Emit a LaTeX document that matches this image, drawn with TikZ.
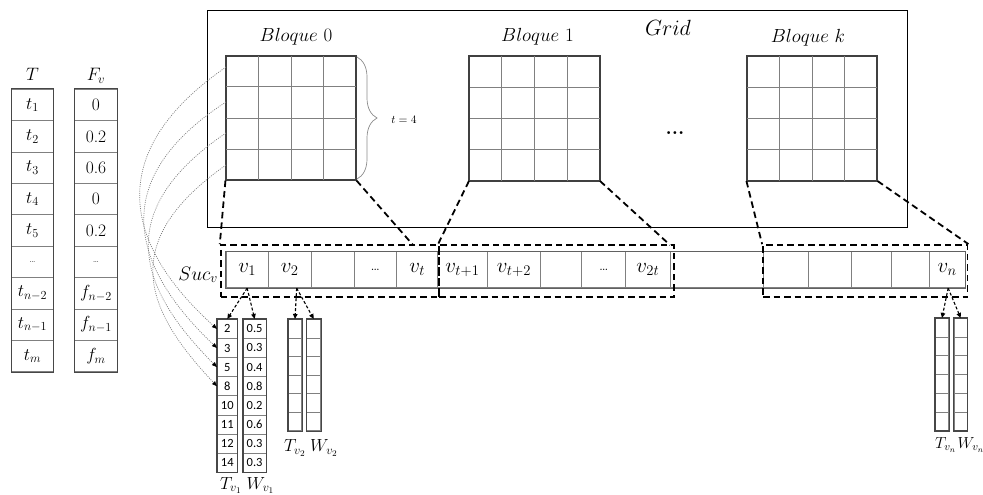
\RequirePackage{fix-cm}
\documentclass[tikz,border=0pt]{standalone}
\usepackage{fontspec}
\newfontfamily\carl{Carlito}
\usetikzlibrary{arrows.meta,decorations.pathreplacing,calc}
\begin{document}
\begin{tikzpicture}[x=1pt,y=-1pt,
  outer/.style={draw=black!72, line width=1.1pt},
  inner/.style={draw=black!50, line width=0.8pt},
  blockbox/.style={draw=black!75, line width=1.1pt, minimum width=130pt, minimum height=124pt, inner sep=0pt},
  dsh/.style={line width=1.8pt, dash pattern=on 6.5pt off 4pt},
  dbox/.style={draw, dsh, inner sep=0pt, minimum height=52pt},
  darr/.style={line width=1.1pt, dash pattern=on 3pt off 2pt, -{Triangle[length=5pt,width=4.5pt]}},
  dotc/.style={draw=black!50, line width=0.7pt, dash pattern=on 1pt off 1.2pt, -{Triangle[length=5pt,width=4pt,color=black]}},
  scell/.style={draw=black!50, line width=0.8pt, inner sep=0pt, minimum height=36pt, font=\fontsize{21}{21}\selectfont},
  tcell/.style={draw=black!50, line width=0.8pt, inner sep=0pt, minimum height=31.38pt, font=\fontsize{17.5}{17.5}\selectfont},
  ncell/.style={draw=black!50, line width=0.7pt, inner sep=0pt, font=\carl\fontsize{12.5}{12.5}\selectfont},
  lbl/.style={inner sep=0pt},
]
\useasboundingbox (0,0) rectangle (983,495);

% Grid frame
\node[draw=black, line width=1pt, minimum width=700pt, minimum height=216pt, inner sep=0pt] (grid) at (557,119) {};
\node[lbl, anchor=base] (gridlbl) at (668,36) {\fontsize{22}{22}\selectfont$Grid$};

% blocks
\node[blockbox] (b0) at (291,118) {};
\node[blockbox] (b1) at (534.5,118.5) {};
\node[blockbox] (bk) at (812,118.5) {};
\foreach \b in {b0,b1,bk}{
  \foreach \i in {1,2,3}{
    \draw[inner] ($(\b.north west)!\i/4!(\b.north east)$) -- ($(\b.south west)!\i/4!(\b.south east)$);
    \draw[inner] ($(\b.north west)!\i/4!(\b.south west)$) -- ($(\b.north east)!\i/4!(\b.south east)$);
  }
  \draw[draw=black!75, line width=1.1pt] (\b.north west) rectangle (\b.south east);
}
\node[lbl, anchor=base] (l0) at (296,41.5) {\fontsize{19}{19}\selectfont$Bloque\ 0$};
\node[lbl, anchor=base] (l1) at (537.5,42) {\fontsize{19}{19}\selectfont$Bloque\ 1$};
\node[lbl, anchor=base] (lk) at (808,43) {\fontsize{19}{19}\selectfont$Bloque\ k$};
\node[lbl, anchor=base] (gdots) at (675,134) {\fontsize{20}{20}\selectfont\textbf{...}};

% brace
\draw[draw=black!45, line width=0.7pt, decorate, decoration={brace, amplitude=20pt}] (357,57) -- (357,179);
\node[lbl, anchor=base] (tl) at (404,124) {\fontsize{11.5}{11.5}\selectfont$t=4$};

% T and F tables
\node[lbl, anchor=base] (Th) at (32.5,80.7) {\fontsize{18}{18}\selectfont$T$};
\node[lbl, anchor=base] (Fh) at (96,80.7) {\fontsize{18}{18}\selectfont$F_v$};
\foreach \txt [count=\i] in {$t_1$,$t_2$,$t_3$,$t_4$,$t_5$,{\fontsize{9}{9}\selectfont\ldots},$t_{n-2}$,$t_{n-1}$,$t_m$}{
  \node[tcell, minimum width=41.6pt] (T\i) at (32.5,{89.3+31.38*(\i-0.5)}) {\txt};
}
\foreach \txt [count=\i] in {0,0.2,0.6,0,0.2,{\fontsize{9}{9}\selectfont\ldots},$f_{n-2}$,$f_{n-1}$,$f_m$}{
  \node[tcell, minimum width=42.3pt] (F\i) at (96,{89.3+31.38*(\i-0.5)}) {\txt};
}
\draw[outer] (T1.north west) rectangle (T9.south east);
\draw[outer] (F1.north west) rectangle (F9.south east);

% Suc array
\node[scell, minimum width=42.3pt] (c1) at (247.15,269.7) {$v_1$};
\node[scell, minimum width=42.7pt] (c2) at (289.65,269.7) {$v_2$};
\node[scell, minimum width=43pt] (c3) at (332.5,269.7) {};
\node[scell, minimum width=42.7pt] (c4) at (375.35,269.7) {\fontsize{16}{16}\selectfont\ldots};
\node[scell, minimum width=41pt] (c5) at (417.2,269.7) {$v_t$};
\node[scell, minimum width=49.6pt] (c6) at (462.5,269.7) {$v_{t+1}$};
\node[scell, minimum width=53.4pt] (c7) at (514,269.7) {$v_{t+2}$};
\node[scell, minimum width=41pt] (c8) at (561.2,269.7) {};
\node[scell, minimum width=44pt] (c9) at (603.7,269.7) {\fontsize{16}{16}\selectfont\ldots};
\node[scell, minimum width=44.3pt] (c10) at (647.85,269.7) {$v_{2t}$};
\node[scell, minimum width=93.3pt] (c11) at (716.65,269.7) {};
\node[scell, minimum width=45pt] (c12) at (785.8,269.7) {};
\node[scell, minimum width=42.7pt] (c13) at (829.65,269.7) {};
\node[scell, minimum width=40.7pt] (c14) at (871.35,269.7) {};
\node[scell, minimum width=37.6pt] (c15) at (910.5,269.7) {};
\node[scell, minimum width=35.7pt] (c16) at (947.15,269.7) {$v_n$};
\draw[draw=black!62, line width=1pt] (c1.north west) rectangle (c16.south east);
\node[lbl, anchor=base east] (suclbl) at (218,280) {\fontsize{19.5}{19.5}\selectfont$Suc_v$};

% dashed boxes
\node[dbox, minimum width=218.3pt] (box0) at (329.85,271) {};
\node[dbox, minimum width=235pt] (box1) at (556.5,271) {};
\node[dbox, minimum width=204.5pt] (boxk) at (865.25,271) {};
\coordinate (box0tip) at (413,245);
\coordinate (box1tip) at (670,245);
\draw[dsh] (b0.south west) -- (box0.north west);
\draw[dsh] (b0.south east) -- (box0tip);
\draw[dsh] (b1.south west) -- (box1.north west);
\draw[dsh] (b1.south east) -- (box1tip);
\draw[dsh] (bk.south west) -- (boxk.north west);
\draw[dsh] (bk.south east) -- (boxk.north east);

% small columns v1
\foreach \txt [count=\i] in {2,3,5,8,10,11,12,14}{
  \node[ncell, minimum width=20pt, minimum height=19.125pt] (tv1-\i) at (227.3,{319.3+19.125*(\i-0.5)}) {\txt};
}
\foreach \txt [count=\i] in {0.5,0.3,0.4,0.8,0.2,0.6,0.3,0.3}{
  \node[ncell, minimum width=22.7pt, minimum height=19.125pt] (wv1-\i) at (254.65,{319.3+19.125*(\i-0.5)}) {\txt};
}
\draw[outer] (tv1-1.north west) rectangle (tv1-8.south east);
\draw[outer] (wv1-1.north west) rectangle (wv1-8.south east);
% v2 and vn
\foreach \i in {1,...,6}{
  \node[ncell, minimum width=13.4pt, minimum height=18.57pt] (tv2-\i) at (295,{319.3+18.57*(\i-0.5)}) {};
  \node[ncell, minimum width=14pt, minimum height=18.57pt] (wv2-\i) at (313.7,{319.3+18.57*(\i-0.5)}) {};
  \node[ncell, minimum width=13.4pt, minimum height=18.73pt] (tvn-\i) at (942,{318.3+18.73*(\i-0.5)}) {};
  \node[ncell, minimum width=13.3pt, minimum height=18.73pt] (wvn-\i) at (960.65,{318.3+18.73*(\i-0.5)}) {};
}
\draw[outer] (tv2-1.north west) rectangle (tv2-6.south east);
\draw[outer] (wv2-1.north west) rectangle (wv2-6.south east);
\draw[outer] (tvn-1.north west) rectangle (tvn-6.south east);
\draw[outer] (wvn-1.north west) rectangle (wvn-6.south east);

% labels of small columns
\node[lbl, anchor=base west] (tv1l) at (220,489) {\fontsize{17.5}{17.5}\selectfont$T_{v_1}$};
\node[lbl, anchor=base west] (wv1l) at (246.5,489) {\fontsize{17.5}{17.5}\selectfont$W_{v_1}$};
\node[lbl, anchor=base west] (tv2l) at (284,451.7) {\fontsize{17.5}{17.5}\selectfont$T_{v_2}$};
\node[lbl, anchor=base west] (wv2l) at (310,451.7) {\fontsize{17.5}{17.5}\selectfont$W_{v_2}$};
\node[lbl, anchor=base west] (tvnl) at (935,448.3) {\fontsize{16}{16}\selectfont$T_{v_n}$};
\node[lbl, anchor=base west] (wvnl) at (957.5,448.3) {\fontsize{16}{16}\selectfont$W_{v_n}$};

% dashed arrows
\draw[darr] (c1.south) -- (tv1-1.north);
\draw[darr] (c1.south) -- (wv1-1.north);
\draw[darr] ([xshift=7pt]c2.south) -- (tv2-1.north);
\draw[darr] ([xshift=7pt]c2.south) -- (wv2-1.north);
\draw[darr] ([xshift=1pt]c16.south) -- (tvn-1.north);
\draw[darr] ([xshift=1pt]c16.south) -- (wvn-1.north);

% dotted curves
\coordinate (s1) at (226,67);
\coordinate (s2) at (226,102);
\coordinate (s3) at (226,133);
\coordinate (s4) at (226,165);
\draw[dotc] (s1) .. controls (92,160) and (135,255) .. (tv1-1.west);
\draw[dotc] (s2) .. controls (98,185) and (140,275) .. (tv1-2.west);
\draw[dotc] (s3) .. controls (105,215) and (145,295) .. (tv1-3.west);
\draw[dotc] (s4) .. controls (112,245) and (150,315) .. (tv1-4.west);
\end{tikzpicture}
\end{document}
